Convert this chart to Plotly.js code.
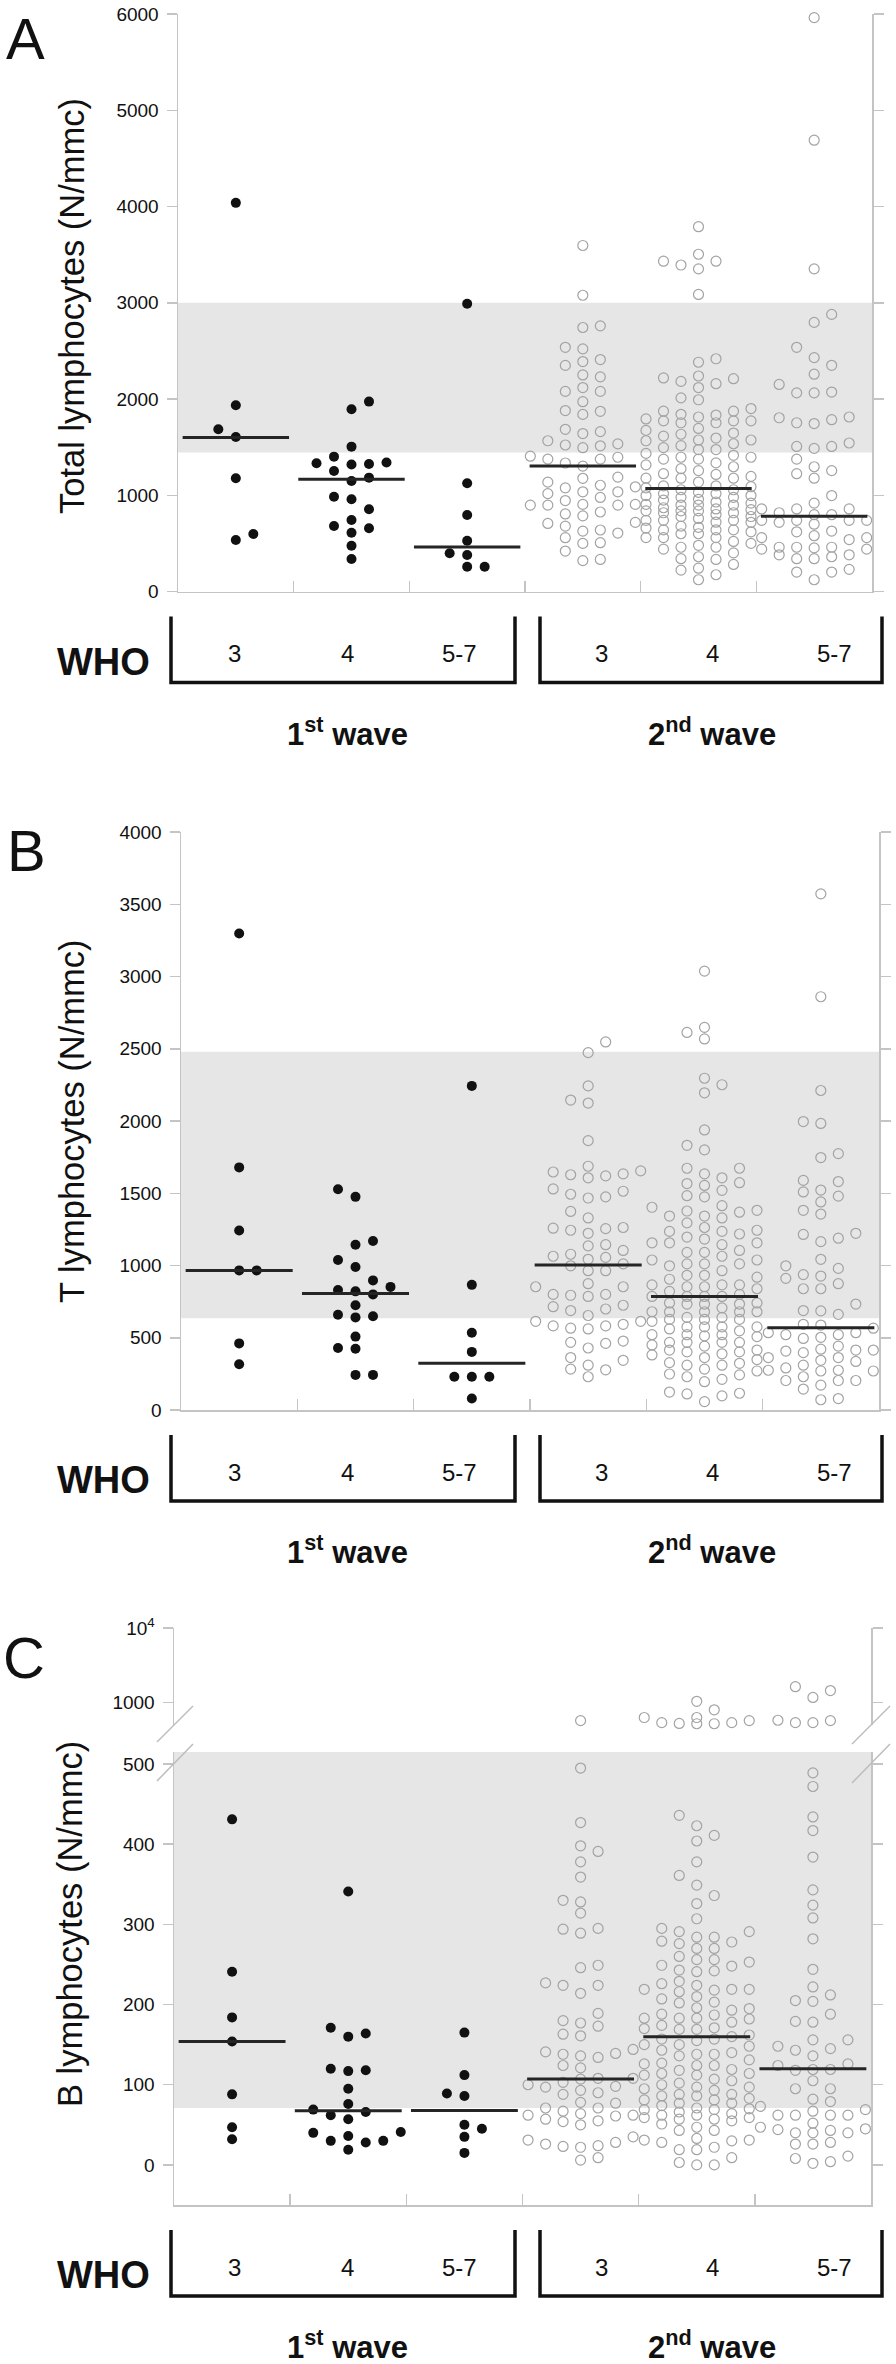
<!DOCTYPE html>
<html><head><meta charset="utf-8">
<script src="https://cdn.plot.ly/plotly-3.0.1.min.js"></script>
<style>html,body{margin:0;padding:0;background:#fff}#chart{width:896px;height:2364px}</style>
</head><body><div id="chart"></div>
<script>
// ---------------- DATA ----------------
const categories = ['3','4','5-7','3','4','5-7'];
const waveLabels = ['1<sup>st</sup> wave','2<sup>nd</sup> wave'];
const panelLetters = ['A','B','C'];
const yTitles = ['Total lymphocytes (N/mmc)','T lymphocytes (N/mmc)','B lymphocytes (N/mmc)'];

// Panel A: total lymphocytes
const totalW1_3 = [4038,1935,1686,1606,1176,598,535];
const totalW1_4 = [1973,1894,1505,1401,1332,1325,1340,1320,1252,1183,1148,985,958,854,743,681,657,611,476,338];
const totalW1_57 = [2989,1125,795,528,397,379,258,258];
const totalW2_3 = [1685,1335,977,707,2521,2230,1641,1494,1303,1088,897,639,507,2760,2389,2079,1880,1534,1395,1176,1036,905,806,607,333,3595,3078,2743,2349,2079,1840,1522,1375,1136,1017,897,718,559,321,2410,2119,1872,1566,1375,1188,1036,905,786,627,420,2537,2250,1972,1661,1406,1077,945,826,679,500,1514,1104,897];
const totalW2_4 = [2012,1753,1566,1375,1177,1057,898,779,667,560,333,
 3504,2219,1901,1833,1773,1614,1515,1415,1316,1216,1137,1057,978,898,818,739,659,560,460,242,
 3432,2418,2183,1873,1793,1694,1594,1495,1395,1296,1196,1097,1017,958,898,838,779,719,640,560,480,401,174,
 3790,3352,3086,2382,2119,1841,1773,1674,1574,1475,1375,1276,1177,1077,997,918,838,759,679,600,500,341,122,
 3392,2159,1873,1753,1634,1535,1435,1336,1177,1089,997,906,818,739,640,520,361,222,
 3432,2211,1992,1773,1574,1395,1256,1097,978,858,739,600,440,281,
 2239,1813,1646,1475,1224,1017,838,620,460,
 1030,950,870,800,720,640,930,850];
const totalW2_57 = [918,739,460,2151,1805,858,739,620,453,361,230,
 2879,2430,2072,1753,1507,1375,1224,818,719,580,440,341,202,
 5962,4689,3352,2796,2350,2064,1745,1487,1256,997,798,699,540,440,341,122,
 2537,2064,1785,1507,1296,1177,858,739,560,460,202,
 2258,1813,1543,858,739,560,460,381,798,628,381];
const totalMedians = [1600,1166,463,1303,1069,782];
const totalRef = [1445,3000];
const totalTicks = [0,1000,2000,3000,4000,5000,6000];

// Panel B: T lymphocytes
const tW1_3 = [3297,1679,1242,966,966,461,317];
const tW1_4 = [1528,1475,1170,1144,1038,990,897,852,821,800,831,725,659,641,649,508,424,429,243,243];
const tW1_57 = [2243,866,535,402,230,230,230,79];
const tW2_3 = [1647,1056,654,363,1628,1493,1263,1144,1011,853,786,614,561,310,
 2547,2145,1607,1467,1255,1104,964,800,715,582,468,278,
 2473,2124,1864,1655,1530,1374,1223,1064,964,800,688,582,429,230,
 2243,1687,1620,1475,1244,1078,998,853,699,593,461,283,
 1634,1514,1258,1136,1043,874,725,614,477,344,1329,794,566];
const tW2_4 = [1567,1329,1157,1011,839,741,641,561,450,363,196,
 1673,1520,1382,1263,1183,1091,998,919,853,786,733,680,627,575,521,468,415,349,270,116,
 2648,2296,1938,1634,1475,1369,1236,1144,1038,932,853,786,733,680,627,575,521,468,402,323,243,98,
 3037,2568,2195,1800,1573,1414,1342,1236,1157,1091,1011,932,866,786,733,680,627,575,521,468,389,310,212,58,
 2613,2251,1832,1607,1483,1342,1244,1157,1038,964,866,786,707,641,575,508,442,381,310,230,111,
 1673,1554,1377,1295,1197,1064,1011,866,800,741,680,614,548,468,402,328,249,124,
 1403,1218,1104,905,821,680,513,415,283];
const tW2_57 = [535,363,204,1589,1223,927,733,588,503,415,336,270,172,
 1996,1522,1440,1189,998,874,686,566,495,408,291,79,
 3572,2860,2211,1983,1747,1509,1356,1165,980,839,662,535,442,363,275,204,71,
 1774,1581,1382,1215,1043,839,688,521,397,310,230,145,
 1480,911,521,415,344,270,204,937,593,421,275];
const tMedians = [966,807,323,1003,786,569];
const tRef = [635,2480];
const tTicks = [0,500,1000,1500,2000,2500,3000,3500,4000];

// Panel C: B lymphocytes (values above the axis break go to the log segment)
const bW1_3 = [431,241,184,154,88,47,32];
const bW1_4 = [341,171,164,160,120,118,117,95,76,69,62,66,57,41,40,36,30,28,30,19];
const bW1_57 = [165,112,89,86,50,45,35,15];
const bW2_3 = [144,107,67,26,314,246,180,139,98,88,64,54,22,
 573,378,294,224,173,136,108,97,77,61,35,9,
 495,427,391,359,328,289,224,189,161,134,108,93,71,57,28,6,
 398,330,295,227,214,163,138,121,100,71,62,31,23,
 249,177,141,124,103,78,62,50,24,90,55];
const bW2_4 = [573,538,800,525,630,520,630,520,1040,538,
 291,249,218,187,160,114,86,70,57,19,
 284,270,242,224,210,195,182,170,157,148,136,124,112,100,88,77,69,62,51,31,9,
 411,349,307,276,256,241,219,203,183,169,155,140,127,118,107,95,83,74,64,55,43,30,0,
 436,404,361,326,291,278,253,229,216,202,188,174,162,150,138,126,114,102,88,77,66,57,43,22,0,
 423,378,336,295,279,256,243,219,207,183,171,157,143,131,119,105,93,81,69,59,47,28,3,
 284,260,248,219,193,183,169,150,124,112,97,86,71,59,31,19,
 270,226,196,178,138,97,81,62,33];
const bW2_57 = [573,538,1633,1170,1449,579,538,
 156,95,47,26,222,148,124,82,62,44,11,
 489,343,188,143,119,73,62,40,4,
 472,417,384,324,282,244,205,178,136,105,69,52,40,28,2,
 434,308,212,179,145,118,79,62,45,8,
 204,156,119,95,62,43,26,126,67,40];
const bMedians = [154,67.5,67.8,107,160,120];
const bRef = [71,515];
const bTicksLow = [0,100,200,300,400,500];
const bTicksHigh = [1000,10000];
const bTickTextHigh = ['1000','10<sup>4</sup>'];
const bBreak = 515;

// ---------------- LAYOUT GEOMETRY (pixels) ----------------
const W = 896, H = 2364;
const FONT = 'Liberation Sans, Arial, Helvetica, sans-serif';
const AX = '#c4c4c4';
const px = x => x / W, py = y => 1 - y / H;
const G = [
  {x0:178, x1:872, top:14,   bot:591.5, range:[0,6000], key:''},
  {x0:181, x1:879, top:832,  bot:1410,  range:[0,4000], key:'2'},
  {x0:174, x1:871, top:1752, bot:2205,  range:[-50,515], key:'3', upTop:1628, upBot:1725, upRange:[Math.log10(500),4]}
];
const SLOT_PX = 17.5, MIN_D = 11, HALF_MED = 0.46;

function linPx(g){ return v => g.bot - (v - g.range[0])/(g.range[1]-g.range[0])*(g.bot-g.top); }
function pxC(v){ const g=G[2];
  if (v > bBreak) return g.upBot - (Math.log10(v)-g.upRange[0])/(g.upRange[1]-g.upRange[0])*(g.upBot-g.upTop);
  return linPx(g)(v); }

// dot-plot layout: discrete columns, each point takes the most central free column,
// balancing left/right when both sides are free
function swarm(vals, toPx){
  const idx = vals.map((v,i)=>i).sort((a,b)=>vals[a]-vals[b]);
  const all = [0,1,-1,2,-2,3,-3];
  const placed = {}; all.forEach(s=>placed[s]=[]);
  let side = 1;
  const out = new Array(vals.length);
  for (const i of idx){
    const p = toPx(vals[i]);
    const gapOf = s => { let g = Infinity; for (const q of placed[s]) g = Math.min(g, Math.abs(p-q)); return g; };
    let chosen = null, bestGap = -1, bestSlot = 0;
    for (const m of [0,1,2,3]){
      const cands = m===0 ? [0] : [m*side, -m*side];
      for (const s of cands){
        const gap = gapOf(s);
        if (gap >= MIN_D){ chosen = s; break; }
        if (gap > bestGap){ bestGap = gap; bestSlot = s; }
      }
      if (chosen !== null) break;
    }
    if (chosen === null) chosen = bestSlot;
    if (chosen !== 0) side = -Math.sign(chosen);
    placed[chosen].push(p); out[i] = chosen;
  }
  return out;
}

const panelsData = [
  {groups:[totalW1_3,totalW1_4,totalW1_57,totalW2_3,totalW2_4,totalW2_57], med:totalMedians, ref:totalRef, ticks:totalTicks},
  {groups:[tW1_3,tW1_4,tW1_57,tW2_3,tW2_4,tW2_57], med:tMedians, ref:tRef, ticks:tTicks},
  {groups:[bW1_3,bW1_4,bW1_57,bW2_3,bW2_4,bW2_57], med:bMedians, ref:bRef, ticks:bTicksLow}
];

const traces = [];
const filled = {symbol:'circle', size:10, color:'#111', line:{width:0}};
const open = {symbol:'circle-open', size:10, color:'#a3a3a3', line:{width:1.2}};

panelsData.forEach((pd, pi) => {
  const g = G[pi];
  const xa = 'x'+g.key, ya = 'y'+g.key;
  const slotW = SLOT_PX / ((g.x1-g.x0)/6);
  const toPx = pi===2 ? pxC : linPx(g);
  const buckets = {};
  pd.groups.forEach((vals, gi) => {
    const off = swarm(vals, toPx);
    vals.forEach((v,i) => {
      const wave = gi < 3 ? 0 : 1;
      const upper = (pi===2 && v > bBreak);
      const k = wave + (upper?'u':'l');
      if (!buckets[k]) buckets[k] = {x:[], y:[], wave, upper};
      buckets[k].x.push(gi + off[i]*slotW);
      buckets[k].y.push(v);
    });
  });
  Object.values(buckets).forEach(b => {
    traces.push({type:'scatter', mode:'markers', x:b.x, y:b.y, xaxis:xa,
      yaxis: b.upper ? 'y4' : ya, marker: b.wave===0 ? filled : open, hoverinfo:'y', cliponaxis:false});
  });
  const mx = [], my = [];
  pd.med.forEach((m,gi) => { mx.push(gi-HALF_MED, gi+HALF_MED, null); my.push(m, m, null); });
  traces.push({type:'scatter', mode:'lines', x:mx, y:my, xaxis:xa, yaxis:ya,
    line:{color:'#252525', width:3}, hoverinfo:'skip'});
});

const layout = {
  width:W, height:H, margin:{l:0,r:0,t:0,b:0}, showlegend:false,
  paper_bgcolor:'#fff', plot_bgcolor:'rgba(0,0,0,0)',
  font:{family:FONT, color:'#111'}, shapes:[], annotations:[]
};
function xAxis(g, anchor){
  return {domain:[px(g.x0), px(g.x1)], range:[-0.5,5.5], anchor, showline:true, linecolor:AX, linewidth:1.5,
    ticks:'inside', ticklen:11, tickwidth:1.5, tickcolor:AX, tickvals:[0.5,1.5,2.5,3.5,4.5],
    showticklabels:false, showgrid:false, zeroline:false, fixedrange:true};
}
function yAxis(top, bot, range, anchor, tickvals, extra){
  return Object.assign({domain:[py(bot), py(top)], range, anchor, showline:true, linecolor:AX, linewidth:1.5,
    mirror:'ticks', ticks:'outside', ticklen:10, tickwidth:1.5, tickcolor:AX, tickvals,
    tickfont:{size:19, color:'#111', family:FONT}, ticklabelstandoff:4,
    showgrid:false, zeroline:false, fixedrange:true}, extra||{});
}
layout.xaxis = xAxis(G[0], 'y');
layout.yaxis = yAxis(G[0].top, G[0].bot, G[0].range, 'x', totalTicks);
layout.xaxis2 = xAxis(G[1], 'y2');
layout.yaxis2 = yAxis(G[1].top, G[1].bot, G[1].range, 'x2', tTicks);
layout.xaxis3 = xAxis(G[2], 'y3');
layout.yaxis3 = yAxis(G[2].top, G[2].bot, G[2].range, 'x3', bTicksLow);
layout.yaxis4 = yAxis(G[2].upTop, G[2].upBot, G[2].upRange, 'x3', bTicksHigh, {type:'log', ticktext:bTickTextHigh});

[['x','y',totalRef],['x2','y2',tRef],['x3','y3',bRef]].forEach(([xr,yr,r]) => {
  layout.shapes.push({type:'rect', xref:xr, yref:yr, x0:-0.5, x1:5.5, y0:r[0], y1:r[1],
    fillcolor:'#e6e6e6', line:{width:0}, layer:'below'});
});

const brk = [[193,1706,157,1742],[193,1744,157,1781],[890,1706,852,1744],[890,1744,852,1783]];
brk.forEach(([a,b,c,d]) => layout.shapes.push({type:'line', xref:'paper', yref:'paper',
  x0:px(a), y0:py(b), x1:px(c), y1:py(d), line:{color:'#bdbdbd', width:1.5}}));

const BR = [[171,515],[540,882]];
const catLabelX = [234,347,459,601,712,834];
const waveX = [347,712];
const yTitleY = [306,1121,1924];
const letterPos = [[25,39],[26,850],[24,1657]];
G.forEach((g, pi) => {
  const b = g.bot;
  BR.forEach(([l,r]) => layout.shapes.push({type:'path', xref:'paper', yref:'paper',
    path:`M ${px(l)},${py(b+25)} L ${px(l)},${py(b+91)} L ${px(r)},${py(b+91)} L ${px(r)},${py(b+25)}`,
    line:{color:'#111', width:3.5}}));
  const ann = (x,y,text,size,extra) => layout.annotations.push(Object.assign({xref:'paper', yref:'paper',
    x:px(x), y:py(y), text, showarrow:false, xanchor:'center', yanchor:'middle',
    font:{family:FONT, size, color:'#111'}}, extra||{}));
  ann(103, b+70, '<b>WHO</b>', 38);
  categories.forEach((c,i) => ann(catLabelX[i], b+62, c, 24));
  waveLabels.forEach((w,i) => ann(waveX[i], b+140, '<b>'+w+'</b>', 31));
  ann(pi===2?70:72, yTitleY[pi], yTitles[pi], 34.5, {textangle:-90});
  ann(letterPos[pi][0], letterPos[pi][1], panelLetters[pi], 58);
});

Plotly.newPlot('chart', traces, layout, {staticPlot:true, displayModeBar:false});
</script></body></html>
